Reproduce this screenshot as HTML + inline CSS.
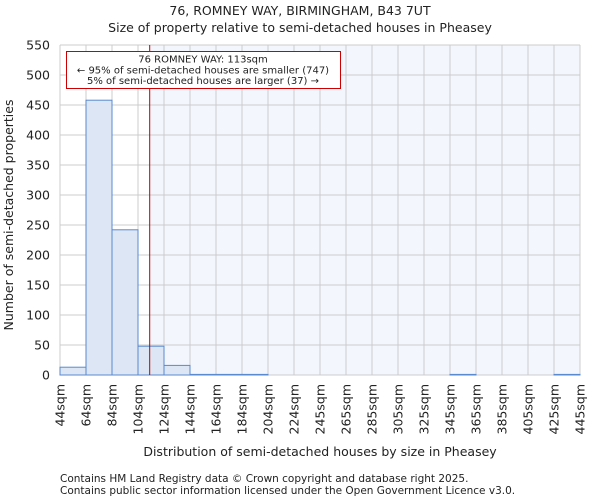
<!DOCTYPE html>
<html><head><meta charset="utf-8"><style>
body{margin:0;background:#fff;font-family:"DejaVu Sans","Liberation Sans",sans-serif}
svg text{font-family:"DejaVu Sans","Liberation Sans",sans-serif;fill:#222}
</style></head><body>
<svg id="chart" width="600" height="500" xmlns="http://www.w3.org/2000/svg">
<text x="300" y="15" text-anchor="middle" font-size="12.5">76, ROMNEY WAY, BIRMINGHAM, B43 7UT</text>
<text x="300" y="32" text-anchor="middle" font-size="12.5">Size of property relative to semi-detached houses in Pheasey</text>
<g id="plot"></g>
<text x="320" y="456" text-anchor="middle" font-size="12.5">Distribution of semi-detached houses by size in Pheasey</text>
<text transform="translate(13,215) rotate(-90)" text-anchor="middle" font-size="12.5">Number of semi-detached properties</text>
<text x="60" y="482" font-size="10.5" fill="#444">Contains HM Land Registry data © Crown copyright and database right 2025.</text>
<text x="60" y="494" font-size="10.5" fill="#444">Contains public sector information licensed under the Open Government Licence v3.0.</text>
</svg>
<script>
const binLabels=["44sqm","64sqm","84sqm","104sqm","124sqm","144sqm","164sqm","184sqm","204sqm","224sqm","245sqm","265sqm","285sqm","305sqm","325sqm","345sqm","365sqm","385sqm","405sqm","425sqm","445sqm"];
const binEdges=[44,64,84,104,124,144,164,184,204,224,245,265,285,305,325,345,365,385,405,425,445];
const counts=[13,458,242,48,16,1,1,1,0,0,0,0,0,0,0,1,0,0,0,1];
const yTicks=[0,50,100,150,200,250,300,350,400,450,500,550];
const propertySize=113;
const annotLines=["76 ROMNEY WAY: 113sqm","← 95% of semi-detached houses are smaller (747)","5% of semi-detached houses are larger (37) →"];

const NS="http://www.w3.org/2000/svg";
const g=document.getElementById('plot');
const L=60,R=580,T=45,B=375,yMax=550;
const nb=counts.length;
const xi=i=>L+i*(R-L)/nb;
function xv(v){for(let i=0;i<binEdges.length-1;i++){if(v<=binEdges[i+1])return xi(i)+(v-binEdges[i])/(binEdges[i+1]-binEdges[i])*(xi(i+1)-xi(i));}return R;}
const y=v=>B-v/yMax*(B-T);
function mk(t,a){const e=document.createElementNS(NS,t);for(const k in a)e.setAttribute(k,a[k]);g.appendChild(e);return e;}
const px=xv(propertySize);
let e=mk('rect',{x:L,y:T,width:R-L,height:B-T,fill:'#fff'});


e=mk('rect',{x:px,y:T,width:R-px,height:B-T,fill:'#f3f6fc'});


yTicks.forEach(t=>{
 let l=mk('line',{x1:L,x2:R,y1:y(t),y2:y(t),stroke:'#ccc','stroke-width':1});
 
 
 let tx=mk('text',{x:L-10,y:y(t)+4.5,'text-anchor':'end','font-size':12.5});
 tx.textContent=t;
 
 
});
binLabels.forEach((lb,i)=>{
 let l=mk('line',{x1:xi(i),x2:xi(i),y1:T,y2:B,stroke:'#ccc','stroke-width':1});
 
 
 let tx=mk('text',{transform:`translate(${xi(i)+4.5},384) rotate(-90)`,'text-anchor':'end','font-size':12.5});
 tx.textContent=lb;
 
 
});
counts.forEach((c,i)=>{
 let r=mk('rect',{x:xi(i),y:y(c),width:xi(i+1)-xi(i),height:B-y(c),fill:'#dce6f4',stroke:'#5a8ad0','stroke-width':1});
 
 
});
e=mk('line',{x1:px,x2:px,y1:T,y2:B,stroke:'#b00','stroke-width':1});


e=mk('rect',{x:66.5,y:51.5,width:274,height:37,fill:'#fff',stroke:'#c00','stroke-width':1});


annotLines.forEach((s,i)=>{
 let tx=mk('text',{x:203,y:62.5+i*10.8,'text-anchor':'middle','font-size':10});
 tx.textContent=s;
 
 
});
</script>
</body></html>
